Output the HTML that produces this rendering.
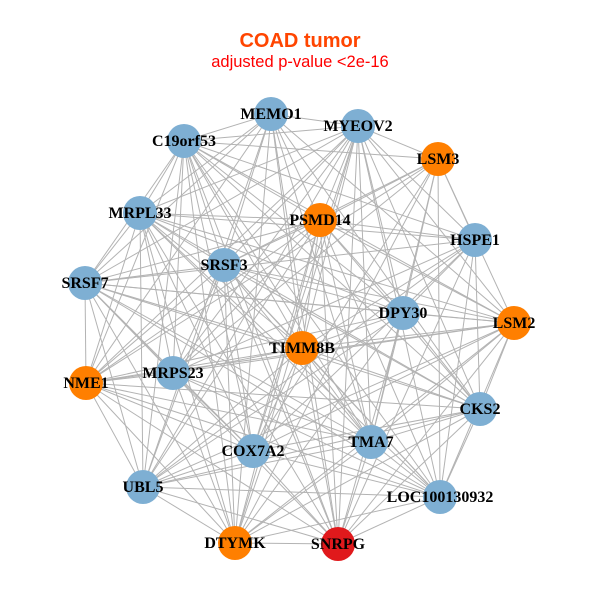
<!DOCTYPE html>
<html><head><meta charset="utf-8"><style>html,body{margin:0;padding:0;background:#fff}svg{display:block}</style></head>
<body>
<svg id="s" width="600" height="600" xmlns="http://www.w3.org/2000/svg">
<rect width="600" height="600" fill="#fff"/>
<text x="300" y="47" text-anchor="middle" font-family="Liberation Sans, sans-serif" font-weight="bold" font-size="20" fill="#ff4500">COAD tumor</text>
<text x="300" y="67" text-anchor="middle" font-family="Liberation Sans, sans-serif" font-size="16.5" fill="#ff0000">adjusted p-value &lt;2e-16</text>
<g id="e" stroke="#b3b3b3" stroke-width="1"></g>
<g id="n"></g>
</svg>
<script>
var N=[["MEMO1",271,114,"b"],["MYEOV2",358,126,"b"],["C19orf53",184,141,"b"],["LSM3",438,159,"o"],["PSMD14",320,220,"o"],["MRPL33",140,213,"b"],["HSPE1",475,240,"b"],["SRSF3",224,265,"b"],["SRSF7",85,283,"b"],["DPY30",403,313,"b"],["LSM2",514,323,"o"],["TIMM8B",302,348,"o"],["MRPS23",173,373,"b"],["NME1",86,383,"o"],["CKS2",480,409,"b"],["COX7A2",253,451,"b"],["TMA7",371,442,"b"],["UBL5",143,487,"b"],["LOC100130932",440,497,"b"],["DTYMK",235,543,"o"],["SNRPG",338,544,"r"]];
var C={b:"#7eafd3",o:"#ff7f00",r:"#e0191c"};
var ns="http://www.w3.org/2000/svg",E=document.getElementById("e"),G=document.getElementById("n");
for(var i=0;i<N.length;i++)for(var j=i+1;j<N.length;j++){if((i*7+j*3)%9==0)continue;var l=document.createElementNS(ns,"line");l.setAttribute("x1",N[i][1]);l.setAttribute("y1",N[i][2]);l.setAttribute("x2",N[j][1]);l.setAttribute("y2",N[j][2]);E.appendChild(l);}
N.forEach(function(d){var c=document.createElementNS(ns,"circle");c.setAttribute("cx",d[1]);c.setAttribute("cy",d[2]);c.setAttribute("r",17);c.setAttribute("fill",C[d[3]]);G.appendChild(c);});
N.forEach(function(d){var t=document.createElementNS(ns,"text");t.setAttribute("x",d[1]);t.setAttribute("y",d[2]+5);t.setAttribute("text-anchor","middle");t.setAttribute("font-family","Liberation Serif, serif");t.setAttribute("font-weight","bold");t.setAttribute("font-size","16");t.textContent=d[0];G.appendChild(t);});
</script>
</body></html>
